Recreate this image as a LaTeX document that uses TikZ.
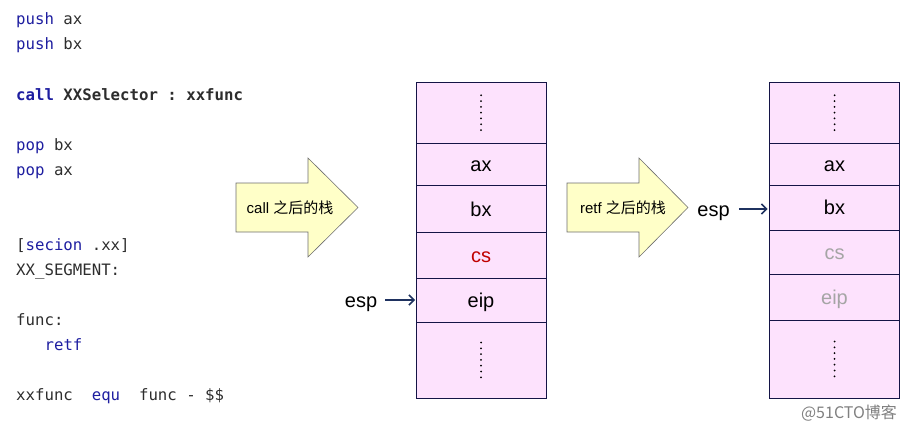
\documentclass[tikz,border=0pt]{standalone}
\usepackage{fontspec}
\setmainfont{Liberation Sans}
\setmonofont{DejaVu Sans Mono}
\newfontfamily\cjk{Noto Sans CJK SC}
\usepackage{xcolor}
\usetikzlibrary{positioning,arrows.meta,calc}

\definecolor{stackpink}{RGB}{253,226,253}
\definecolor{stackline}{RGB}{20,20,70}
\definecolor{arrowyellow}{RGB}{255,255,200}
\definecolor{arrowgray}{RGB}{110,110,110}
\definecolor{espblue}{RGB}{31,50,96}
\definecolor{codegray}{RGB}{45,45,45}
\definecolor{codeblue}{RGB}{30,30,160}
\definecolor{csred}{RGB}{192,0,0}
\definecolor{faded}{RGB}{165,165,165}

\newcommand{\kw}[1]{\textcolor{codeblue}{#1}}

\begin{document}
\begin{tikzpicture}[x=1pt, y=1pt,
        code/.style={anchor=base west, inner sep=0pt, text=codegray, font=\ttfamily\fontsize{15.7}{18}\selectfont},
        cell/.style={rectangle, draw=stackline, fill=stackpink, line width=0.8pt, minimum width=130pt, outer sep=0pt, inner sep=0pt, text height=14.6pt, text depth=0pt, font=\fontsize{20}{24}\selectfont},
        esplabel/.style={inner sep=0pt, text height=14pt, text depth=0pt, font=\fontsize{20}{24}\selectfont},
        bigarrow/.style={draw=arrowgray, fill=arrowyellow, line width=0.6pt, line join=miter},
        arrowtext/.style={inner sep=0pt, font=\fontsize{15}{17}\selectfont},
        esparrow/.style={-{Straight Barb[length=5pt, width=10pt]}, line width=1.5pt, espblue},
        dotcol/.style={line width=2pt, line cap=round, dash pattern=on 0pt off 5.8pt}]

        \useasboundingbox (0,0) rectangle (907,-428);

        % Assembly listing
        \node[code] (c1) at (16,-25) {\kw{push} ax};
        \node[code] (c2) at (16,-50) {\kw{push} bx};
        \node[code] (c3) at (16,-100) {\bfseries\kw{call} XXSelector : xxfunc};
        \node[code] (c4) at (16,-150) {\kw{pop} bx};
        \node[code] (c5) at (16,-175) {\kw{pop} ax};
        \node[code] (c6) at (16,-250) {[\kw{secion} .xx]};
        \node[code] (c7) at (16,-275) {XX\_SEGMENT:};
        \node[code] (c8) at (16,-325) {func:};
        \node[code] (c9) at (44.4,-350) {\kw{retf}};
        \node[code] (c10) at (16,-400) {xxfunc\ \ \kw{equ}\ \ func - \$\$};

        % Stack after call
        \node[cell, minimum height=60.5pt, anchor=north] (l1) at (481,-82.5) {};
        \node[cell, minimum height=42.5pt, below=0pt of l1] (l2) {ax};
        \node[cell, minimum height=46.5pt, below=0pt of l2] (l3) {bx};
        \node[cell, minimum height=46pt, below=0pt of l3, text=csred] (l4) {cs};
        \node[cell, minimum height=44pt, below=0pt of l4] (l5) {eip};
        \node[cell, minimum height=76pt, below=0pt of l5] (l6) {};
        \draw[dotcol] ($(l1.center)+(0,17.5)$) -- ($(l1.center)+(0,-17.5)$);
        \draw[dotcol] ($(l6.center)+(0,17.5)$) -- ($(l6.center)+(0,-17.5)$);

        % Stack after retf
        \node[cell, minimum height=60.5pt, anchor=north] (r1) at (834.5,-82.5) {};
        \node[cell, minimum height=42pt, below=0pt of r1] (r2) {ax};
        \node[cell, minimum height=45pt, below=0pt of r2] (r3) {bx};
        \node[cell, minimum height=44pt, below=0pt of r3, text=faded] (r4) {cs};
        \node[cell, minimum height=46pt, below=0pt of r4, text=faded] (r5) {eip};
        \node[cell, minimum height=78pt, below=0pt of r5] (r6) {};
        \draw[dotcol] ($(r1.center)+(0,17.5)$) -- ($(r1.center)+(0,-17.5)$);
        \draw[dotcol] ($(r6.center)+(0,17.5)$) -- ($(r6.center)+(0,-17.5)$);

        % Block arrows
        \draw[bigarrow] (236,-183) -- (308,-183) -- (308,-158) -- (358,-207.5) -- (308,-257) -- (308,-232) -- (236,-232) -- cycle;
        \node[arrowtext] (calltxt) at (290,-208) {call {\cjk 之后的栈}};
        \draw[bigarrow] (567,-183) -- (639,-183) -- (639,-158) -- (688,-207.5) -- (639,-257) -- (639,-232) -- (567,-232) -- cycle;
        \node[arrowtext] (retftxt) at (623,-208) {retf {\cjk 之后的栈}};

        % Stack pointers
        \node[esplabel] (esp1) at (361,-300) {esp};
        \draw[esparrow, shorten <=8pt, shorten >=1pt] (esp1.east) -- (l5.west);
        \node[esplabel] (esp2) at (713.5,-209) {esp};
        \draw[esparrow, shorten <=9pt, shorten >=2pt] (esp2.east) -- (esp2 -| r3.west);

        \node[inner sep=0pt, text=gray, font=\cjk\fontsize{16}{18}\selectfont] (mark) at (849,-413) {@51CTO博客};
    \end{tikzpicture}
\end{document}
